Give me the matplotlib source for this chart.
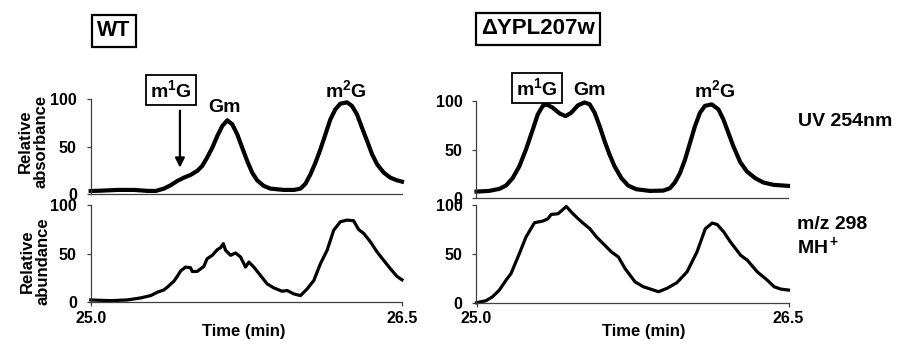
import numpy as np
import matplotlib.pyplot as plt

plt.rcParams['font.family'] = ['Liberation Sans', 'DejaVu Sans']
plt.rcParams['font.weight'] = 'bold'
plt.rcParams['mathtext.fontset'] = 'custom'
plt.rcParams['mathtext.rm'] = 'Liberation Sans:bold'
plt.rcParams['mathtext.it'] = 'Liberation Sans:bold'
plt.rcParams['mathtext.bf'] = 'Liberation Sans:bold'
plt.rcParams['mathtext.default'] = 'rm'

# WT, UV 254nm
wtUvTime = [25.000, 25.048, 25.128, 25.209, 25.273, 25.313, 25.353, 25.385, 25.417, 25.449,
            25.481, 25.513, 25.537, 25.561, 25.586, 25.610, 25.634, 25.658, 25.682, 25.706,
            25.730, 25.754, 25.778, 25.802, 25.834, 25.866, 25.930, 25.979, 26.011, 26.035,
            26.059, 26.083, 26.107, 26.131, 26.155, 26.179, 26.203, 26.235, 26.259, 26.283,
            26.307, 26.332, 26.356, 26.380, 26.412, 26.444, 26.476, 26.500]
wtUv = [3.5, 3.8, 4.6, 4.6, 3.6, 3.5, 6.0, 9.5, 14.0, 17.5,
        20.4, 24.6, 29.8, 38.6, 49.1, 61.4, 71.9, 77.9, 73.7, 63.2,
        49.1, 35.1, 22.8, 14.7, 8.8, 6.0, 4.6, 4.6, 6.0, 11.2,
        21.1, 33.3, 47.4, 63.2, 78.9, 89.5, 95.4, 96.8, 93.0, 84.2,
        70.2, 56.1, 42.1, 31.6, 22.8, 17.5, 14.7, 13.3]

# WT, m/z 298
wtMsTime = [25.000, 25.096, 25.176, 25.241, 25.289, 25.321, 25.353, 25.369, 25.401, 25.417,
            25.433, 25.457, 25.481, 25.489, 25.513, 25.545, 25.561, 25.586, 25.610, 25.626,
            25.639, 25.650, 25.674, 25.698, 25.722, 25.746, 25.762, 25.786, 25.818, 25.850,
            25.882, 25.922, 25.947, 25.979, 26.011, 26.043, 26.075, 26.107, 26.139, 26.171,
            26.203, 26.235, 26.267, 26.291, 26.316, 26.348, 26.380, 26.412, 26.444, 26.476, 26.500]
wtMs = [2.4, 1.7, 2.4, 4.5, 6.9, 10.3, 12.8, 15.5, 21.7, 26.6,
        32.1, 36.2, 35.5, 31.7, 31.7, 36.9, 44.8, 48.3, 54.1, 56.2,
        60.3, 53.4, 48.3, 50.7, 46.6, 36.2, 41.4, 36.2, 27.6, 19.0,
        14.8, 11.4, 12.1, 8.6, 6.9, 13.8, 22.4, 39.7, 53.4, 74.1,
        82.8, 84.5, 83.8, 74.8, 70.7, 62.1, 51.7, 43.1, 34.5, 26.6, 23.1]

# deletion strain, UV 254nm
koUvTime = [25.000, 25.061, 25.110, 25.142, 25.174, 25.206, 25.238, 25.271, 25.295, 25.319,
            25.338, 25.367, 25.400, 25.429, 25.456, 25.488, 25.520, 25.545, 25.569, 25.593,
            25.617, 25.641, 25.665, 25.698, 25.730, 25.770, 25.835, 25.899, 25.931, 25.955,
            25.980, 26.004, 26.028, 26.052, 26.076, 26.100, 26.133, 26.165, 26.189, 26.213,
            26.237, 26.270, 26.302, 26.342, 26.382, 26.431, 26.500]
koUv = [6.9, 7.6, 9.7, 13.1, 20.7, 32.8, 50.0, 70.7, 86.2, 95.0,
        96.5, 93.1, 87.2, 84.5, 87.9, 95.5, 98.5, 96.6, 87.9, 74.1,
        58.6, 44.8, 32.8, 20.7, 13.1, 9.3, 7.6, 7.9, 10.3, 16.2,
        25.9, 39.7, 56.9, 74.1, 87.9, 95.0, 96.5, 91.4, 81.0, 67.2,
        53.4, 37.2, 27.6, 20.7, 16.2, 13.8, 12.8]

# deletion strain, m/z 298
koMsTime = [25.000, 25.045, 25.077, 25.110, 25.142, 25.166, 25.206, 25.238, 25.279, 25.319,
            25.343, 25.359, 25.392, 25.432, 25.456, 25.480, 25.512, 25.545, 25.577, 25.609,
            25.649, 25.682, 25.714, 25.762, 25.802, 25.851, 25.875, 25.915, 25.963, 26.012,
            26.060, 26.100, 26.133, 26.157, 26.189, 26.221, 26.270, 26.302, 26.350, 26.398,
            26.431, 26.463, 26.500]
koMs = [0.0, 2.0, 6.1, 13.0, 23.2, 30.0, 50.5, 67.6, 82.3, 84.0,
        86.3, 90.8, 91.5, 99.0, 93.2, 88.1, 81.9, 76.1, 67.6, 60.8,
        52.2, 47.1, 35.2, 21.5, 16.4, 13.0, 11.3, 14.7, 20.5, 31.7,
        52.2, 76.1, 81.9, 80.5, 72.7, 62.5, 48.8, 43.7, 31.7, 23.2,
        16.4, 14.0, 13.0]

W, H = 904, 353
fig = plt.figure(figsize=(W / 100, H / 100), dpi=100)


def px_axes(l, t, r, b):
    return fig.add_axes([l / W, 1 - b / H, (r - l) / W, (b - t) / H])


def style(ax, bottom_row):
    for s in ['top', 'right']:
        ax.spines[s].set_visible(False)
    for s in ['left', 'bottom']:
        ax.spines[s].set_color('0.25')
        ax.spines[s].set_linewidth(0.9)
    ax.set_xlim(25.0, 26.5)
    ax.set_ylim(0, 100)
    ax.set_yticks([0, 50, 100])
    ax.tick_params(axis='y', direction='out', length=3, width=0.9, color='0.25',
                   pad=7, labelsize=11.5)
    if bottom_row:
        ax.set_xticks([25.0, 26.5])
        ax.set_xticklabels(['25.0', '26.5'])
        ax.tick_params(axis='x', direction='out', length=3, width=0.9, color='0.25',
                       pad=3, labelsize=11.5)
    else:
        ax.set_xticks([])
    for lab in ax.get_xticklabels() + ax.get_yticklabels():
        lab.set_fontweight('bold')


def fig_text(px, py, s, **kw):
    return fig.text(px / W, 1 - py / H, s, fontweight='bold', **kw)


axTL = px_axes(90.7, 99.3, 402, 194.3)
axTR = px_axes(476.5, 101, 788, 198.3)
axBL = px_axes(90.7, 205, 402, 302.3)
axBR = px_axes(476.5, 205.5, 788.5, 302.7)

axTL.plot(wtUvTime, wtUv, color='black', lw=3.0, clip_on=False, solid_joinstyle='round')
axTR.plot(koUvTime, koUv, color='black', lw=3.0, clip_on=False, solid_joinstyle='round')
axBL.plot(wtMsTime, wtMs, color='black', lw=2.3, clip_on=False)
axBR.plot(koMsTime, koMs, color='black', lw=2.3, clip_on=False)

for ax in (axTL, axTR):
    style(ax, False)
for ax in (axBL, axBR):
    style(ax, True)

# strain boxes
box = dict(boxstyle='square,pad=0.24', fc='white', ec='black', lw=1.6)
fig_text(114, 31, 'WT', fontsize=15.5, ha='center', va='center', bbox=box)
fig_text(538, 29, '\u0394YPL207w', fontsize=16, ha='center', va='center', bbox=box)

# peak labels
small_box = dict(boxstyle='square,pad=0.2', fc='white', ec='black', lw=1.3)
fig_text(171, 97, r'm$^1$G', fontsize=14, ha='center', va='baseline', bbox=small_box)
fig_text(225, 112, 'Gm', fontsize=14, ha='center', va='baseline')
fig_text(346, 97, r'm$^2$G', fontsize=14, ha='center', va='baseline')
fig_text(537, 95, r'm$^1$G', fontsize=14, ha='center', va='baseline', bbox=small_box)
fig_text(590, 95, 'Gm', fontsize=14, ha='center', va='baseline')
fig_text(715, 97, r'm$^2$G', fontsize=14, ha='center', va='baseline')

axTL.annotate('', xy=(25.43, 28), xytext=(25.43, 88), annotation_clip=False,
              arrowprops=dict(arrowstyle='-|>', lw=1.6, color='black', mutation_scale=14,
                              shrinkA=0, shrinkB=0))

# axis labels
fig_text(33, 141, 'Relative\nabsorbance', fontsize=12, rotation=90, ha='center',
         va='center', multialignment='center', linespacing=1.05)
fig_text(35, 261, 'Relative\nabundance', fontsize=12, rotation=90, ha='center',
         va='center', multialignment='center', linespacing=1.05)
fig_text(244, 336, 'Time (min)', fontsize=12, ha='center', va='baseline')
fig_text(644, 336, 'Time (min)', fontsize=12, ha='center', va='baseline')

# detector labels
fig_text(798, 126, 'UV 254nm', fontsize=14, ha='left', va='baseline')
fig_text(797, 229, 'm/z 298', fontsize=14, ha='left', va='baseline')
fig_text(797, 253, r'MH$^+$', fontsize=14, ha='left', va='baseline')

fig.savefig('out.png', dpi=100)
